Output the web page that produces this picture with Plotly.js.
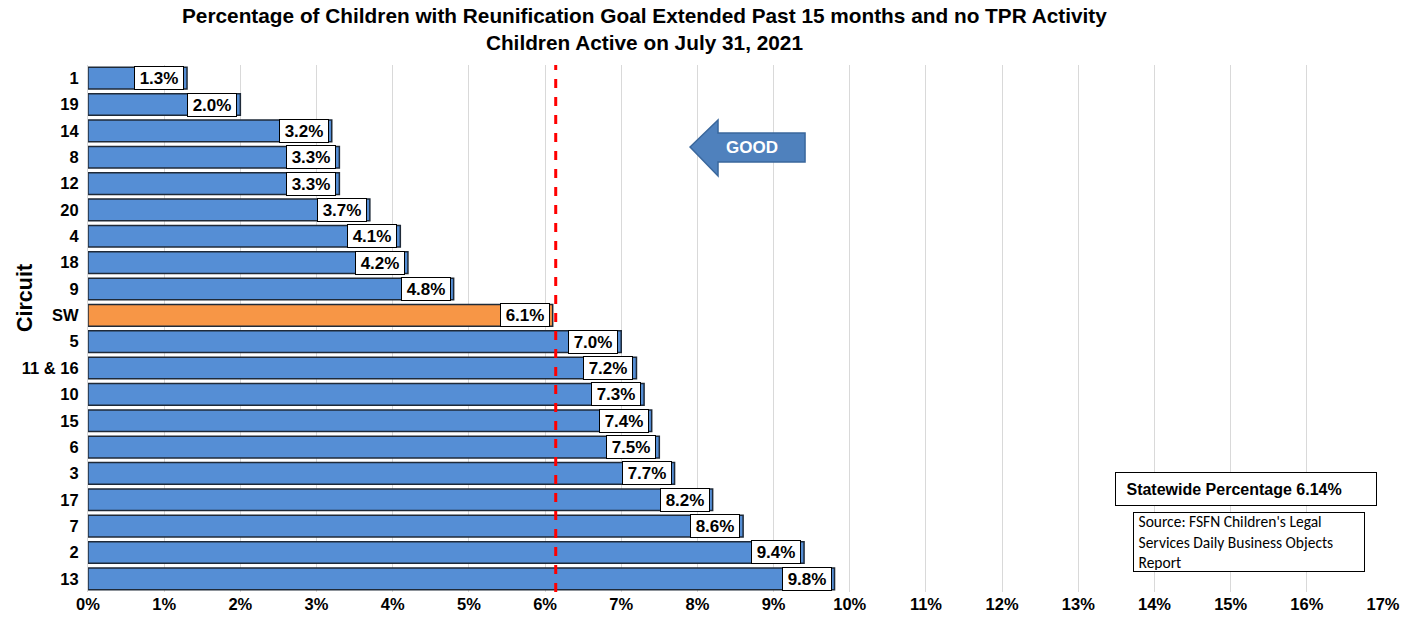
<!DOCTYPE html>
<html>
<head>
<meta charset="utf-8">
<script src="https://cdn.plot.ly/plotly-3.0.1.min.js"></script>
<style>html,body{margin:0;padding:0;background:#fff;}#chart{width:1418px;height:625px;}</style>
</head>
<body>
<div id="chart"></div>
<script>
const circuits = ["1","19","14","8","12","20","4","18","9","SW","5","11 & 16","10","15","6","3","17","7","2","13"];
const percentages = [1.3,2.0,3.2,3.3,3.3,3.7,4.1,4.2,4.8,6.1,7.0,7.2,7.3,7.4,7.5,7.7,8.2,8.6,9.4,9.8];
const statewide = 6.14;
const xTickValues = [0,1,2,3,4,5,6,7,8,9,10,11,12,13,14,15,16,17];
const sourceLines = ["Source: FSFN Children's Legal", "Services Daily Business Objects", "Report"];

const FONT = "Liberation Sans, Arial, sans-serif";
const barColors = circuits.map(c => c === "SW" ? "#F79646" : "#558ED5");

const trace = {
  type: "bar",
  orientation: "h",
  y: circuits,
  x: percentages,
  marker: {color: barColors, line: {color: "#1F2A38", width: 1.5}},
  width: 0.82,
  hoverinfo: "skip"
};

const labelAnns = circuits.map((c, i) => ({
  x: percentages[i], y: i, xref: "x", yref: "y",
  xanchor: "right", yanchor: "middle", xshift: -3,
  text: "<b>" + percentages[i].toFixed(1) + "%</b>",
  showarrow: false,
  bgcolor: "#FFFFFF", bordercolor: "#000000", borderwidth: 1, borderpad: 1,
  width: 46, height: 20, align: "center",
  font: {family: FONT, size: 17, color: "#000"}
}));

const layout = {
  width: 1418, height: 625,
  margin: {l: 88, r: 35, t: 65, b: 33},
  paper_bgcolor: "#FFFFFF", plot_bgcolor: "#FFFFFF",
  showlegend: false,
  xaxis: {
    range: [0, 17], tickvals: xTickValues, ticktext: xTickValues.map(v => "<b>" + v + "%</b>"),
    showgrid: true, gridcolor: "#D9D9D9", gridwidth: 1,
    zeroline: false, showline: false, ticks: "",
    tickfont: {family: FONT, size: 16.5, color: "#000"},
    fixedrange: true
  },
  yaxis: {
    type: "category", autorange: false, range: [circuits.length - 0.5, -0.5],
    tickvals: circuits, ticktext: circuits.map(c => "<b>" + c + "</b>"),
    showgrid: false, zeroline: false, showline: true, linecolor: "#D9D9D9", linewidth: 1,
    ticks: "", ticklabelstandoff: 5,
    tickfont: {family: FONT, size: 16.5, color: "#000"},
    fixedrange: true
  },
  bargap: 0.18,
  shapes: [
    {type: "line", xref: "x", yref: "paper", x0: statewide, x1: statewide, y0: 0, y1: 1,
     line: {color: "#FF0000", width: 3, dash: "dash"}},
    {type: "path", xref: "paper", yref: "paper",
     path: "M 0.4649 0.8444 L 0.4865 0.8956 L 0.4865 0.8710 L 0.5537 0.8710 L 0.5537 0.8159 L 0.4865 0.8159 L 0.4865 0.7894 Z",
     fillcolor: "#4F81BD", line: {color: "#3A679C", width: 1.5}}
  ],
  annotations: labelAnns.concat([
    {x: 0.4301, y: 1.119, xref: "paper", yref: "paper", xanchor: "center", yanchor: "top",
     text: "<b>Percentage of Children with Reunification Goal Extended Past 15 months and no TPR Activity<br>Children Active on July 31, 2021</b>",
     showarrow: false, align: "center",
     font: {family: FONT, size: 20.8, color: "#000"}},
    {x: -0.0486, y: 0.558, xref: "paper", yref: "paper", xanchor: "center", yanchor: "middle",
     text: "<b>Circuit</b>", textangle: -90, showarrow: false,
     font: {family: FONT, size: 21.5, color: "#000"}},
    {x: 0.5127, y: 0.8444, xref: "paper", yref: "paper", text: "<b>GOOD</b>", showarrow: false,
     xanchor: "center", yanchor: "middle",
     font: {family: FONT, size: 17, color: "#FFFFFF"}},
    {x: 0.793, y: 0.1954, xref: "paper", yref: "paper", xanchor: "left", yanchor: "middle",
     text: "&nbsp;<b>Statewide Percentage 6.14%</b>", showarrow: false, width: 248, height: 20, align: "left",
     bgcolor: "#FFFFFF", bordercolor: "#000", borderwidth: 1, borderpad: 6,
     font: {family: FONT, size: 16, color: "#000"}},
    {x: 0.807, y: 0.0949, xref: "paper", yref: "paper", xanchor: "left", yanchor: "middle",
     text: sourceLines.map(s => "&nbsp;" + s).join("<br>"), showarrow: false,
     width: 228, height: 56, align: "left",
     bgcolor: "#FFFFFF", bordercolor: "#000", borderwidth: 1, borderpad: 1,
     font: {family: "Carlito, Liberation Sans, Arial, sans-serif", size: 15.5, color: "#000"}}
  ])
};

Plotly.newPlot("chart", [trace], layout, {displayModeBar: false, staticPlot: true});
</script>
</body>
</html>
